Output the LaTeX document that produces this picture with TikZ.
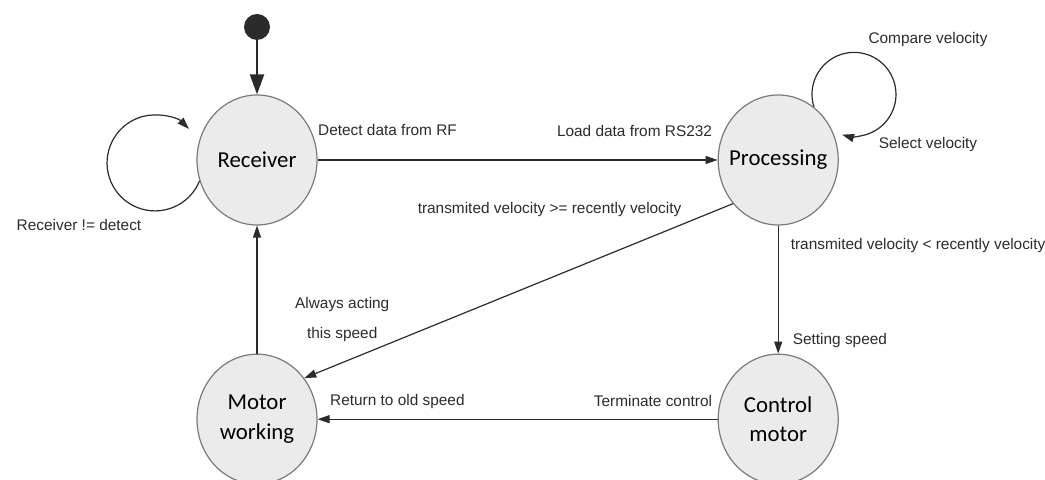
\documentclass[tikz,border=0pt]{standalone}
\usepackage{fontspec}
\setmainfont{Liberation Sans}
\newfontfamily\statefont{Carlito}
\usepackage{xcolor}
\definecolor{Ink}{HTML}{2B2B2B}
\definecolor{Rim}{HTML}{7A7A7A}
\definecolor{Shade}{HTML}{EBEBEB}
\usepackage{tikz}
\usetikzlibrary{arrows.meta,positioning,shapes.geometric}

\begin{document}
\begin{tikzpicture}[x=0.5pt,y=0.5pt,node distance=64pt and 200pt,
  state/.style={ellipse,draw=Rim,fill=Shade,line width=0.6pt,minimum width=60pt,minimum height=65pt,inner xsep=-5pt,inner ysep=0pt,align=center,font=\statefont\fontsize{11.4}{14.6}\selectfont},
  lbl/.style={font=\fontsize{7.7}{9}\selectfont,inner sep=1pt,text=Ink},
  trans/.style={draw=Ink,line width=0.6pt,-{Triangle[length=6pt,width=4pt]}}]
\useasboundingbox (0,0) rectangle (1045,480);
\node[state] (rec) at (257,320) {Receiver};
\node[state,right=of rec] (proc) {Processing};
\node[state,below=of rec] (motor) {Motor\\working};
\node[state,below=of proc] (ctrl) {Control\\motor};
\node[circle,fill=Ink,minimum size=13pt,inner sep=0pt] (init) at (257,453) {};
% transitions
\draw[trans,line width=1.2pt,-{Triangle[length=10pt,width=7pt]}] (init) -- (rec);
\draw[trans] (rec) -- (proc)
  node[lbl,pos=0,anchor=west,xshift=-1pt,yshift=15pt] {Detect data from RF}
  node[lbl,pos=1,anchor=east,xshift=-1.5pt,yshift=14.5pt] {Load data from RS232};
\draw[trans] (proc.224) -- (motor.41)
  node[lbl,pos=0,anchor=east,xshift=-24.5pt,yshift=-3pt] {transmited velocity >= recently velocity}
  node[lbl,pos=1,align=center,xshift=19pt,yshift=29.5pt] {Always acting\\[6pt]this speed};
\draw[trans] (proc) -- (ctrl)
  node[lbl,pos=0,anchor=west,xshift=5pt,yshift=-10pt] {transmited velocity < recently velocity}
  node[lbl,pos=1,anchor=west,xshift=6pt,yshift=6.5pt] {Setting speed};
\draw[trans] (ctrl) -- (motor)
  node[lbl,pos=0,anchor=east,xshift=-1.5pt,yshift=9pt] {Terminate control}
  node[lbl,pos=1,anchor=west,xshift=5pt,yshift=9pt] {Return to old speed};
\draw[trans] (motor) -- (rec);
% self loops
\draw[trans] (rec.200) arc[start angle=-22,end angle=-315,radius=48];
\draw[trans] (proc.56) arc[start angle=197.5,end angle=-106.5,radius=42];
\node[lbl] (recloop) at (79,255) {Receiver != detect};
\node[lbl] (cmp) at (928,440) {Compare velocity};
\node[lbl] (sel) at (928,335) {Select velocity};
\end{tikzpicture}
\end{document}
